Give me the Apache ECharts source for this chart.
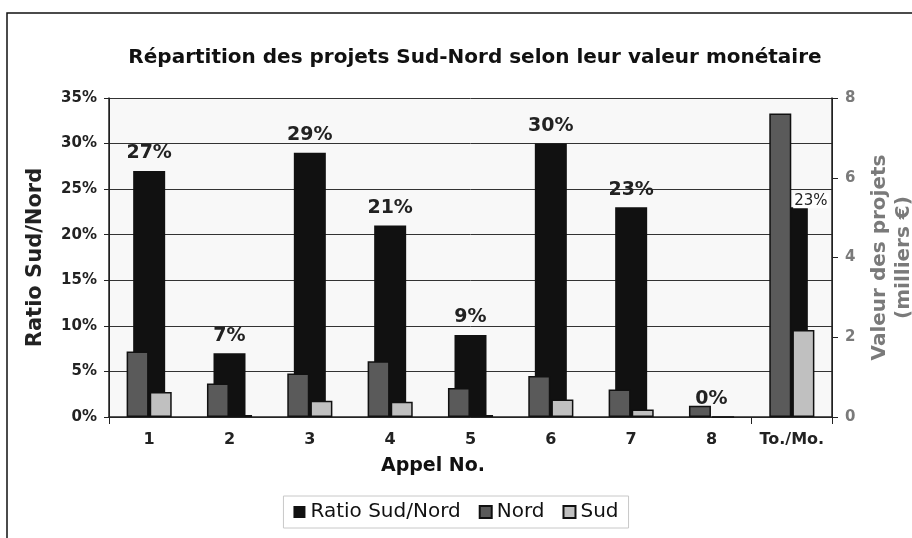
<!DOCTYPE html>
<html>
<head>
<meta charset="utf-8">
<script src="https://cdn.jsdelivr.net/npm/echarts@6/dist/echarts.min.js"></script>
<style>html,body{margin:0;padding:0;background:#fff;}#c{width:912px;height:538px;}</style>
</head>
<body>
<div id="c"></div>
<script>
const categories = ['1', '2', '3', '4', '5', '6', '7', '8', 'To./Mo.'];
const ratioSudNord = [27, 7, 29, 21, 9, 30, 23, 0, 23];   // %
const nord = [1.64, 0.84, 1.09, 1.40, 0.73, 1.03, 0.69, 0.28, 7.61]; // milliers €
const sud = [0.63, 0.05, 0.41, 0.38, 0.05, 0.44, 0.19, 0, 2.18];   // milliers €
const leftTicks = [0, 35, 5];
const rightTicks = [0, 8, 2];

const FONT = 'DejaVu Sans';
const chart = echarts.init(document.getElementById('c'), null, {renderer: 'canvas'});

const ratioData = ratioSudNord.map((v, i) => {
  if (i === categories.length - 1) {
    return {value: v, label: {fontSize: 15, fontWeight: 'normal', offset: [19, 1], distance: 0,
      backgroundColor: '#fff', padding: [0, 1]}};
  }
  return v;
});

chart.setOption({
  animation: false,
  backgroundColor: '#fff',
  textStyle: {fontFamily: FONT},
  title: {
    text: 'Répartition des projets Sud-Nord selon leur valeur monétaire',
    left: 470, top: 43, textAlign: 'center',
    textStyle: {fontFamily: FONT, fontSize: 20, fontWeight: 'bold', color: '#111'}
  },
  graphic: [
    {type: 'rect', shape: {x: 7, y: 13, width: 1000, height: 1000}, style: {fill: null, stroke: '#111', lineWidth: 1.5}, z: 100},
    {type: 'text', x: 433, y: 466, style: {text: 'Appel No.', font: 'bold 19px "DejaVu Sans"', fill: '#111', align: 'center', verticalAlign: 'middle'}}
  ],
  legend: {
    data: ['Ratio Sud/Nord', 'Nord', 'Sud'],
    left: 'center', bottom: 10,
    itemWidth: 12, itemHeight: 12, itemGap: 18,
    borderColor: '#c8c8c8', borderWidth: 1, padding: [6, 10],
    textStyle: {fontFamily: FONT, fontSize: 20, color: '#111'},
    icon: 'rect'
  },
  grid: {left: 109, right: 80, top: 98, bottom: 121, show: true, backgroundColor: '#f8f8f8', borderWidth: 0,
    outerBoundsMode: 'none', containLabel: false},
  xAxis: [
    {
      type: 'category', data: categories, gridIndex: 0,
      axisLine: {lineStyle: {color: '#222', width: 1.5}},
      axisTick: {show: true, length: 7, interval: (i) => i === 0 || i === 8, lineStyle: {color: '#222'}},
      splitLine: {show: true, interval: (i) => i === 8, lineStyle: {color: '#222', width: 1}},
      axisLabel: {fontFamily: FONT, fontSize: 16, fontWeight: 'bold', color: '#222', margin: 15, interval: 0}
    },
    {type: 'category', data: categories, show: false, gridIndex: 0,
      splitLine: {show: false}, axisLine: {show: false}, axisTick: {show: false}}
  ],
  yAxis: [
    {
      type: 'value', min: leftTicks[0], max: leftTicks[1], interval: leftTicks[2], position: 'left',
      name: 'Ratio Sud/Nord', nameLocation: 'middle', nameGap: 63,
      nameTextStyle: {fontFamily: FONT, fontSize: 21, fontWeight: 'bold', color: '#222'},
      axisLine: {show: true, lineStyle: {color: '#222', width: 1.5}},
      axisTick: {show: true, length: 5, lineStyle: {color: '#222'}},
      axisLabel: {formatter: '{value}%', fontFamily: FONT, fontSize: 15, fontWeight: 'bold', color: '#222', margin: 12},
      splitLine: {show: true, lineStyle: {color: '#333', width: 1}}
    },
    {
      type: 'value', min: rightTicks[0], max: rightTicks[1], interval: rightTicks[2], position: 'right',
      name: 'Valeur des projets\n(milliers €)', nameLocation: 'middle', nameGap: 36, nameRotate: 90,
      nameTextStyle: {fontFamily: FONT, fontSize: 20, fontWeight: 'bold', color: '#7a7a7a', lineHeight: 24},
      axisLine: {show: true, lineStyle: {color: '#222', width: 1.5}},
      axisTick: {show: true, length: 6, lineStyle: {color: '#222'}},
      axisLabel: {fontFamily: FONT, fontSize: 15, fontWeight: 'bold', color: '#7a7a7a', margin: 13},
      splitLine: {show: false}
    }
  ],
  series: [
    {
      name: 'Ratio Sud/Nord', type: 'bar', xAxisIndex: 1, yAxisIndex: 0,
      data: ratioData, barWidth: 32,
      itemStyle: {color: '#111111'},
      label: {show: true, position: 'top', distance: 8, formatter: '{c}%',
        fontFamily: FONT, fontSize: 19, fontWeight: 'bold', color: '#222'},
      z: 2
    },
    {
      name: 'Nord', type: 'bar', xAxisIndex: 0, yAxisIndex: 1,
      data: nord, barWidth: 22, barGap: '5%',
      itemStyle: {color: '#5a5a5a', borderColor: '#111', borderWidth: 1.5},
      z: 3
    },
    {
      name: 'Sud', type: 'bar', xAxisIndex: 0, yAxisIndex: 1,
      data: sud, barWidth: 22, barGap: '5%',
      itemStyle: {color: '#c0c0c0', borderColor: '#111', borderWidth: 1.5},
      z: 3
    }
  ]
});
</script>
</body>
</html>
